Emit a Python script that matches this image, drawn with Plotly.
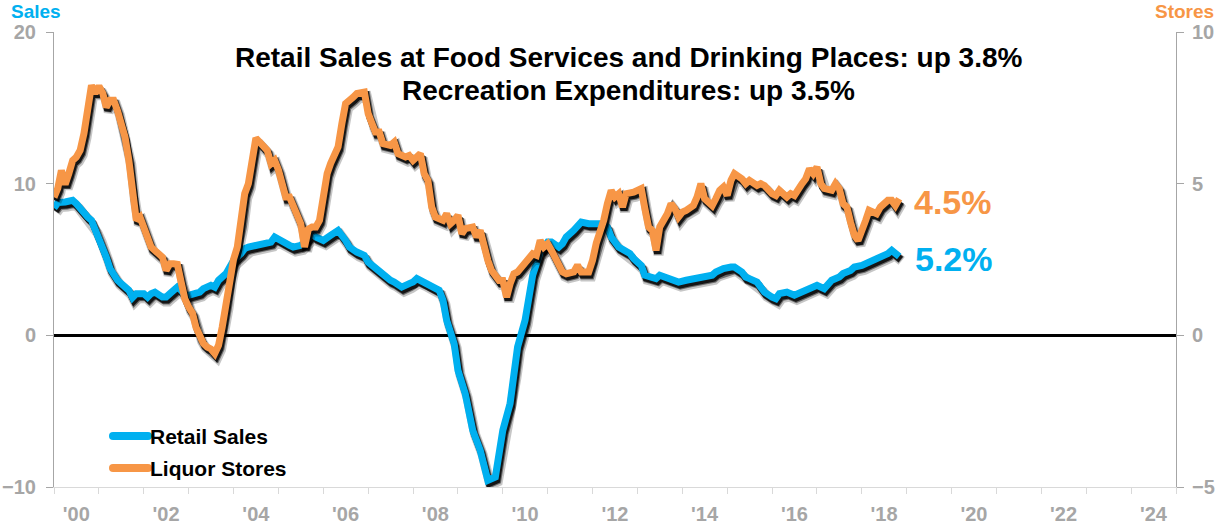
import pandas as pd
import plotly.graph_objects as go

# Year-over-year % change, monthly readings (date, value)
retail_sales = [
    ("2000-01", 8.39), ("2000-02", 8.75), ("2000-04", 8.79), ("2000-05", 8.79), ("2000-06", 8.90),
    ("2000-07", 8.68), ("2000-08", 8.35), ("2000-09", 8.02), ("2000-10", 7.80), ("2000-11", 7.58),
    ("2000-12", 7.03), ("2001-01", 6.48), ("2001-02", 5.93), ("2001-03", 5.16), ("2001-04", 4.40),
    ("2001-05", 3.96), ("2001-06", 3.63), ("2001-07", 3.41), ("2001-09", 2.97), ("2001-10", 2.49),
    ("2001-11", 2.75), ("2002-01", 2.75), ("2002-02", 2.52), ("2002-03", 2.75), ("2002-04", 2.85),
    ("2002-06", 2.52), ("2002-07", 2.52), ("2002-08", 2.75), ("2002-10", 3.18), ("2002-11", 2.97),
    ("2002-12", 2.64), ("2003-01", 2.64), ("2003-03", 2.75), ("2003-04", 2.85), ("2003-05", 3.08),
    ("2003-07", 3.30), ("2003-08", 3.18), ("2003-09", 3.63), ("2003-11", 4.07), ("2003-12", 4.50),
    ("2004-01", 4.94), ("2004-03", 5.39), ("2004-04", 5.72), ("2004-05", 5.82), ("2004-07", 5.93),
    ("2004-09", 6.04), ("2004-11", 6.15), ("2004-12", 6.48), ("2005-02", 6.15), ("2005-04", 5.93),
    ("2005-05", 5.82), ("2005-07", 5.93), ("2005-08", 6.15), ("2005-10", 6.70), ("2005-11", 6.48),
    ("2006-01", 6.26), ("2006-03", 6.59), ("2006-05", 6.92), ("2006-07", 6.26), ("2006-08", 5.82),
    ("2006-10", 5.49), ("2006-12", 5.27), ("2007-01", 4.83), ("2007-03", 4.40), ("2007-05", 3.96),
    ("2007-07", 3.63), ("2007-08", 3.51), ("2007-10", 3.18), ("2007-12", 3.41), ("2008-01", 3.51),
    ("2008-02", 3.74), ("2008-04", 3.51), ("2008-05", 3.41), ("2008-06", 3.18), ("2008-08", 2.97),
    ("2008-09", 2.31), ("2008-10", 0.99), ("2008-12", -0.55), ("2009-01", -2.31), ("2009-03", -3.84),
    ("2009-04", -5.16), ("2009-05", -6.26), ("2009-07", -7.58), ("2009-08", -8.68), ("2009-09", -9.56),
    ("2009-11", -9.34), ("2009-12", -8.02), ("2010-01", -6.26), ("2010-03", -4.50), ("2010-04", -2.52),
    ("2010-05", -0.77), ("2010-07", 0.99), ("2010-08", 2.52), ("2010-09", 3.96), ("2010-11", 5.49),
    ("2011-01", 6.15), ("2011-02", 6.15), ("2011-04", 5.82), ("2011-05", 6.04), ("2011-06", 6.48),
    ("2011-08", 6.92), ("2011-09", 7.25), ("2011-10", 7.47), ("2011-12", 7.36), ("2012-01", 7.36),
    ("2012-02", 7.47), ("2012-04", 7.36), ("2012-05", 7.14), ("2012-06", 6.48), ("2012-08", 5.82),
    ("2012-11", 5.39), ("2012-12", 5.06), ("2013-02", 4.60), ("2013-03", 3.96), ("2013-05", 3.84),
    ("2013-06", 3.74), ("2013-07", 3.96), ("2013-09", 3.74), ("2013-10", 3.63), ("2013-12", 3.51),
    ("2014-02", 3.63), ("2014-04", 3.74), ("2014-06", 3.74), ("2014-07", 3.84), ("2014-09", 3.96),
    ("2014-10", 4.17), ("2014-12", 4.40), ("2015-02", 4.50), ("2015-03", 4.50), ("2015-05", 4.17),
    ("2015-06", 3.84), ("2015-07", 3.74), ("2015-09", 3.51), ("2015-10", 3.18), ("2015-11", 2.85),
    ("2016-01", 2.52), ("2016-02", 2.42), ("2016-03", 2.75), ("2016-05", 2.85), ("2016-07", 2.64),
    ("2016-08", 2.75), ("2016-10", 2.97), ("2016-12", 3.08), ("2017-01", 3.30), ("2017-03", 3.08),
    ("2017-04", 3.41), ("2017-05", 3.63), ("2017-07", 3.84), ("2017-08", 4.07), ("2017-10", 4.28),
    ("2017-11", 4.50), ("2018-01", 4.61), ("2018-03", 4.83), ("2018-05", 4.94), ("2018-06", 5.16),
    ("2018-08", 5.39), ("2018-09", 5.60), ("2018-10", 5.34), ("2018-11", 5.20),
]

liquor_stores = [
    ("2000-01", 4.55), ("2000-02", 4.85), ("2000-03", 5.44), ("2000-04", 4.98), ("2000-05", 5.34),
    ("2000-06", 5.77), ("2000-07", 5.88), ("2000-08", 6.10), ("2000-09", 6.66), ("2000-10", 7.50),
    ("2000-11", 8.24), ("2000-12", 7.98), ("2001-01", 8.21), ("2001-02", 7.98), ("2001-03", 7.52),
    ("2001-04", 7.75), ("2001-05", 7.75), ("2001-06", 7.40), ("2001-07", 6.90), ("2001-08", 6.54),
    ("2001-09", 5.77), ("2001-10", 4.60), ("2001-11", 3.79), ("2001-12", 3.90), ("2002-01", 3.57),
    ("2002-02", 3.24), ("2002-03", 2.91), ("2002-05", 2.69), ("2002-06", 2.58), ("2002-07", 2.14),
    ("2002-08", 2.36), ("2002-09", 2.36), ("2002-10", 2.34), ("2002-11", 1.75), ("2002-12", 1.20),
    ("2003-01", 0.93), ("2003-02", 0.73), ("2003-03", 0.27), ("2003-04", -0.06), ("2003-05", -0.27),
    ("2003-06", -0.39), ("2003-07", -0.45), ("2003-08", -0.60), ("2003-09", -0.33), ("2003-10", 0.27),
    ("2003-11", 1.04), ("2003-12", 1.92), ("2004-01", 2.50), ("2004-02", 2.91), ("2004-03", 3.68),
    ("2004-04", 4.67), ("2004-05", 5.00), ("2004-06", 5.77), ("2004-07", 6.50), ("2004-08", 6.37),
    ("2004-09", 6.21), ("2004-10", 6.10), ("2004-11", 5.66), ("2004-12", 5.77), ("2005-01", 5.45),
    ("2005-02", 5.00), ("2005-03", 4.56), ("2005-04", 4.56), ("2005-05", 4.23), ("2005-06", 3.90),
    ("2005-07", 3.68), ("2005-08", 2.91), ("2005-09", 3.50), ("2005-10", 3.57), ("2005-11", 3.57),
    ("2005-12", 3.79), ("2006-01", 4.67), ("2006-02", 5.33), ("2006-03", 5.66), ("2006-04", 5.99),
    ("2006-05", 6.21), ("2006-06", 6.98), ("2006-07", 7.64), ("2006-09", 7.85), ("2006-10", 7.97),
    ("2006-12", 8.02), ("2007-01", 7.31), ("2007-02", 6.98), ("2007-03", 6.70), ("2007-04", 6.70),
    ("2007-05", 6.32), ("2007-07", 6.26), ("2007-08", 6.37), ("2007-09", 5.99), ("2007-11", 5.88),
    ("2007-12", 5.93), ("2008-01", 5.77), ("2008-03", 5.99), ("2008-04", 5.33), ("2008-05", 5.11),
    ("2008-06", 4.23), ("2008-07", 3.90), ("2008-09", 3.79), ("2008-10", 4.01), ("2008-11", 3.68),
    ("2008-12", 3.79), ("2009-01", 3.96), ("2009-02", 3.35), ("2009-03", 3.52), ("2009-05", 3.57),
    ("2009-06", 3.24), ("2009-07", 3.46), ("2009-08", 2.91), ("2009-09", 2.47), ("2009-10", 2.14),
    ("2009-12", 1.81), ("2010-01", 1.81), ("2010-02", 1.26), ("2010-03", 1.70), ("2010-04", 2.03),
    ("2010-05", 2.09), ("2010-06", 2.25), ("2010-08", 2.58), ("2010-09", 2.69), ("2010-10", 2.64),
    ("2010-11", 3.13), ("2010-12", 2.91), ("2011-01", 3.02), ("2011-02", 2.80), ("2011-04", 2.25),
    ("2011-05", 2.09), ("2011-06", 2.03), ("2011-08", 2.09), ("2011-09", 2.31), ("2011-10", 2.09),
    ("2011-12", 2.09), ("2012-01", 2.47), ("2012-02", 3.05), ("2012-03", 3.35), ("2012-04", 3.79),
    ("2012-05", 4.34), ("2012-06", 4.78), ("2012-07", 4.56), ("2012-08", 4.67), ("2012-09", 4.23),
    ("2012-10", 4.67), ("2012-12", 4.72), ("2013-02", 4.84), ("2013-03", 4.20), ("2013-04", 3.57),
    ("2013-05", 3.46), ("2013-06", 2.80), ("2013-07", 3.57), ("2013-09", 4.01), ("2013-10", 4.34),
    ("2013-11", 4.18), ("2013-12", 3.90), ("2014-01", 4.06), ("2014-02", 4.12), ("2014-04", 4.28),
    ("2014-05", 4.56), ("2014-06", 5.00), ("2014-07", 4.51), ("2014-09", 4.28), ("2014-10", 4.51),
    ("2014-11", 4.78), ("2014-12", 4.89), ("2015-01", 4.61), ("2015-02", 5.11), ("2015-03", 5.33),
    ("2015-05", 5.16), ("2015-06", 5.00), ("2015-07", 5.11), ("2015-09", 4.94), ("2015-10", 5.00),
    ("2015-11", 4.94), ("2016-01", 4.67), ("2016-02", 4.61), ("2016-03", 4.78), ("2016-05", 4.56),
    ("2016-06", 4.67), ("2016-07", 4.61), ("2016-09", 5.00), ("2016-10", 5.16), ("2016-11", 5.49),
    ("2016-12", 5.33), ("2017-01", 5.55), ("2017-02", 5.00), ("2017-03", 4.84), ("2017-05", 4.78),
    ("2017-06", 5.00), ("2017-07", 4.84), ("2017-08", 4.34), ("2017-09", 4.23), ("2017-10", 3.73),
    ("2017-11", 3.30), ("2017-12", 3.13), ("2018-01", 3.40), ("2018-02", 3.79), ("2018-03", 4.12),
    ("2018-05", 4.01), ("2018-06", 4.23), ("2018-08", 4.45), ("2018-09", 4.45), ("2018-10", 4.28),
    ("2018-11", 4.50),
]

tick_years = list(range(2000, 2025, 2))
tick_labels = ["'%02d" % (y % 100) for y in tick_years]

title_lines = [
    "Retail Sales at Food Services and Drinking Places: up 3.8%",
    "Recreation Expenditures: up 3.5%",
]

BLUE = "#00B0F0"
ORANGE = "#F79646"
GRAY = "#A6A6A6"
FONT = "Liberation Sans, Arial, sans-serif"

W, H = 1225, 527
ML, MR, MT, MB = 54, 49, 32, 40
PW, PH = W - ML - MR, H - MT - MB

X_RANGE = ["2000-01-01", "2025-01-01"]
Y1_RANGE = [-10, 20]
Y2_RANGE = [-5, 10]


def px(x):
    return (x - ML) / PW


def py(y):
    return (H - MB - y) / PH


def dt(m):
    return m + "-01"


# pixel -> data conversion for the drop-shadow offsets
days_per_px = (pd.Timestamp(X_RANGE[1]) - pd.Timestamp(X_RANGE[0])).days / PW
y1_per_px = (Y1_RANGE[1] - Y1_RANGE[0]) / PH
y2_per_px = (Y2_RANGE[1] - Y2_RANGE[0]) / PH


def add_series(series, name, color, yaxis, per_px):
    dates = pd.to_datetime([dt(d) for d, _ in series])
    vals = [v for _, v in series]
    # soft dark shadow: offset black passes beneath the coloured line
    for dx, dy, w, op in ((2.5, 4.5, 10, 0.22), (2.0, 3.5, 8, 0.45), (1.5, 3.0, 7, 0.8)):
        fig.add_trace(go.Scatter(
            x=dates + pd.Timedelta(days=dx * days_per_px),
            y=[v - dy * per_px for v in vals],
            mode="lines", line=dict(color="black", width=w), opacity=op,
            yaxis=yaxis, showlegend=False, hoverinfo="skip",
        ))
    fig.add_trace(go.Scatter(
        x=dates, y=vals, mode="lines", name=name, line=dict(color=color, width=7),
        yaxis=yaxis, showlegend=False, hoverinfo="skip",
    ))


fig = go.Figure()
add_series(retail_sales, "Retail Sales", BLUE, "y", y1_per_px)
add_series(liquor_stores, "Liquor Stores", ORANGE, "y2", y2_per_px)

tickfont = dict(family=FONT, size=20, color=GRAY, weight="bold")

fig.update_layout(
    width=W, height=H, autosize=False,
    margin=dict(l=ML, r=MR, t=MT, b=MB, pad=0),
    paper_bgcolor="white", plot_bgcolor="white",
    font=dict(family=FONT),
    xaxis=dict(
        type="date", range=X_RANGE, automargin=False,
        tickmode="array",
        tickvals=["%d-07-01" % y for y in tick_years], ticktext=tick_labels,
        ticks="outside", ticklen=6, tickcolor="rgba(0,0,0,0)", ticklabelstandoff=3,
        tickfont=tickfont,
        minor=dict(dtick="M12", tick0="2000-01-01", ticks="outside", ticklen=6,
                   tickcolor="#D9D9D9", showgrid=False),
        showline=True, linecolor="#D9D9D9", linewidth=1,
        showgrid=False, zeroline=False,
    ),
    yaxis=dict(
        range=Y1_RANGE, tickvals=[-10, 0, 10, 20], automargin=False,
        ticks="outside", ticklen=7, tickcolor=GRAY, ticklabelstandoff=6,
        tickfont=tickfont,
        showline=True, linecolor=GRAY, linewidth=1,
        showgrid=False, zeroline=True, zerolinecolor="black", zerolinewidth=3,
    ),
    yaxis2=dict(
        range=Y2_RANGE, tickvals=[-5, 0, 5, 10], overlaying="y", side="right",
        automargin=False,
        ticks="outside", ticklen=7, tickcolor=GRAY, ticklabelstandoff=4,
        tickfont=tickfont,
        showline=True, linecolor=GRAY, linewidth=1,
        showgrid=False, zeroline=False,
    ),
)

ann = []
# axis captions
ann.append(dict(text="Sales", x=px(9), y=py(12), xref="paper", yref="paper",
                xanchor="left", yanchor="middle", showarrow=False,
                font=dict(family=FONT, size=19, color=BLUE, weight="bold")))
ann.append(dict(text="Stores", x=px(1216), y=py(12), xref="paper", yref="paper",
                xanchor="right", yanchor="middle", showarrow=False,
                font=dict(family=FONT, size=19, color=ORANGE, weight="bold")))
# headline
for i, line in enumerate(title_lines):
    ann.append(dict(text=line, x=px(628), y=py(57 + 33 * i), xref="paper", yref="paper",
                    xanchor="center", yanchor="middle", showarrow=False,
                    font=dict(family=FONT, size=28, color="black", weight="bold")))
# end-of-line value labels
last_s = retail_sales[-1]
last_l = liquor_stores[-1]
ann.append(dict(text="%.1f%%" % last_l[1], x=dt(last_l[0]), y=last_l[1], xref="x", yref="y2",
                xanchor="left", yanchor="middle", xshift=13, yshift=-3, showarrow=False,
                font=dict(family=FONT, size=34, color=ORANGE, weight="bold")))
ann.append(dict(text="%.1f%%" % last_s[1], x=dt(last_s[0]), y=last_s[1], xref="x", yref="y",
                xanchor="left", yanchor="middle", xshift=14, yshift=-3, showarrow=False,
                font=dict(family=FONT, size=34, color=BLUE, weight="bold")))

# legend
shapes = []
for i, (name, col) in enumerate([("Retail Sales", BLUE), ("Liquor Stores", ORANGE)]):
    yy = 436 + 32 * i
    shapes.append(dict(type="line", xref="paper", yref="paper",
                       x0=px(113), x1=px(148), y0=py(yy), y1=py(yy),
                       line=dict(color=col, width=8)))
    for cx in (113, 148):
        shapes.append(dict(type="circle", xref="paper", yref="paper",
                           x0=px(cx - 4), x1=px(cx + 4), y0=py(yy + 4), y1=py(yy - 4),
                           fillcolor=col, line=dict(width=0)))
    ann.append(dict(text=name, x=px(148), y=py(yy), xref="paper", yref="paper",
                    xanchor="left", yanchor="middle", showarrow=False,
                    font=dict(family=FONT, size=21, color="black", weight="bold")))

fig.update_layout(annotations=ann, shapes=shapes)

fig.write_html("out.html")
